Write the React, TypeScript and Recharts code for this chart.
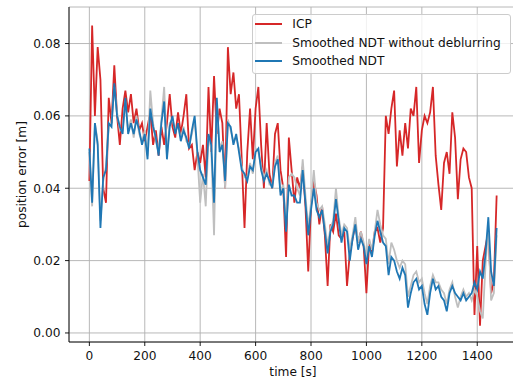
import React from "react";
import {
  LineChart,
  Line,
  XAxis,
  YAxis,
  CartesianGrid,
  Legend,
  Label,
} from "recharts";

// sampled every 10 s, t = 0 .. 1470
const TIME_STEP = 10;

const SERIES_NAMES = ["ICP", "Smoothed NDT without deblurring", "Smoothed NDT"];

const ICP = [
  0.042, 0.085, 0.060, 0.079, 0.070, 0.040, 0.036, 0.065, 0.058, 0.074,
  0.060, 0.052, 0.062, 0.067, 0.061, 0.066, 0.058, 0.062, 0.056, 0.058,
  0.053, 0.057, 0.061, 0.052, 0.056, 0.049, 0.057, 0.052, 0.058, 0.066,
  0.057, 0.054, 0.061, 0.055, 0.060, 0.066, 0.051, 0.052, 0.045, 0.050,
  0.047, 0.052, 0.043, 0.068, 0.050, 0.071, 0.055, 0.062, 0.058, 0.040,
  0.079, 0.066, 0.072, 0.062, 0.066, 0.048, 0.029, 0.050, 0.062, 0.048,
  0.062, 0.068, 0.052, 0.040, 0.058, 0.044, 0.040, 0.055, 0.058, 0.045,
  0.040, 0.021, 0.054, 0.045, 0.036, 0.043, 0.040, 0.046, 0.035, 0.017,
  0.035, 0.042, 0.038, 0.030, 0.035, 0.027, 0.013, 0.030, 0.028, 0.033,
  0.027, 0.026, 0.028, 0.013, 0.022, 0.026, 0.030, 0.025, 0.028, 0.024,
  0.011, 0.025, 0.022, 0.028, 0.029, 0.025, 0.029, 0.060, 0.055, 0.062,
  0.067, 0.046, 0.056, 0.049, 0.058, 0.051, 0.062, 0.060, 0.068, 0.047,
  0.056, 0.060, 0.058, 0.061, 0.068, 0.049, 0.041, 0.034, 0.047, 0.050,
  0.044, 0.061, 0.054, 0.037, 0.048, 0.051, 0.050, 0.043, 0.040, 0.005,
  0.024, 0.002, 0.020, 0.024, 0.028, 0.011, 0.014, 0.038,
];

const NDT_NO_DEBLUR = [
  0.050, 0.035, 0.058, 0.053, 0.031, 0.042, 0.046, 0.057, 0.058, 0.068,
  0.061, 0.056, 0.056, 0.064, 0.056, 0.059, 0.054, 0.060, 0.055, 0.053,
  0.056, 0.049, 0.067, 0.058, 0.053, 0.050, 0.059, 0.068, 0.049, 0.058,
  0.059, 0.056, 0.057, 0.054, 0.057, 0.053, 0.052, 0.055, 0.059, 0.049,
  0.036, 0.044, 0.035, 0.054, 0.051, 0.027, 0.063, 0.051, 0.053, 0.040,
  0.059, 0.056, 0.053, 0.054, 0.051, 0.046, 0.043, 0.043, 0.047, 0.044,
  0.051, 0.050, 0.046, 0.043, 0.045, 0.041, 0.041, 0.047, 0.049, 0.039,
  0.041, 0.030, 0.043, 0.044, 0.043, 0.040, 0.038, 0.048, 0.038, 0.029,
  0.036, 0.045, 0.036, 0.034, 0.035, 0.030, 0.024, 0.029, 0.031, 0.040,
  0.032, 0.027, 0.030, 0.029, 0.023, 0.027, 0.032, 0.025, 0.028, 0.025,
  0.021, 0.026, 0.023, 0.028, 0.034, 0.030, 0.027, 0.026, 0.019, 0.025,
  0.023, 0.020, 0.018, 0.020, 0.019, 0.010, 0.013, 0.016, 0.017, 0.014,
  0.015, 0.011, 0.008, 0.013, 0.016, 0.014, 0.014, 0.012, 0.011, 0.008,
  0.012, 0.014, 0.010, 0.007, 0.010, 0.012, 0.010, 0.011, 0.009, 0.012,
  0.010, 0.006, 0.004, 0.019, 0.029, 0.009, 0.011, 0.027,
];

const NDT = [
  0.051, 0.036, 0.058, 0.052, 0.029, 0.043, 0.045, 0.058, 0.057, 0.069,
  0.060, 0.057, 0.055, 0.065, 0.055, 0.058, 0.055, 0.059, 0.056, 0.052,
  0.055, 0.048, 0.062, 0.057, 0.054, 0.049, 0.058, 0.064, 0.048, 0.057,
  0.060, 0.055, 0.058, 0.053, 0.056, 0.054, 0.051, 0.056, 0.060, 0.050,
  0.045, 0.043, 0.041, 0.055, 0.052, 0.036, 0.065, 0.050, 0.052, 0.042,
  0.058, 0.057, 0.052, 0.055, 0.050, 0.045, 0.044, 0.042, 0.046, 0.045,
  0.050, 0.051, 0.045, 0.042, 0.044, 0.042, 0.040, 0.046, 0.048, 0.038,
  0.040, 0.028, 0.041, 0.038, 0.038, 0.036, 0.036, 0.045, 0.036, 0.027,
  0.034, 0.040, 0.034, 0.032, 0.034, 0.028, 0.022, 0.028, 0.030, 0.037,
  0.031, 0.025, 0.029, 0.028, 0.020, 0.026, 0.030, 0.023, 0.026, 0.024,
  0.019, 0.024, 0.021, 0.027, 0.031, 0.028, 0.025, 0.024, 0.016, 0.021,
  0.020, 0.017, 0.015, 0.018, 0.016, 0.007, 0.011, 0.014, 0.015, 0.012,
  0.013, 0.008, 0.005, 0.011, 0.015, 0.012, 0.013, 0.010, 0.009, 0.006,
  0.011, 0.013, 0.011, 0.010, 0.009, 0.011, 0.009, 0.010, 0.011, 0.014,
  0.012, 0.017, 0.015, 0.022, 0.032, 0.017, 0.013, 0.029,
];

const X_TICKS = [0, 200, 400, 600, 800, 1000, 1200, 1400];
const Y_TICKS = [0, 0.02, 0.04, 0.06, 0.08];

const data = ICP.map((v, i) => ({
  t: i * TIME_STEP,
  icp: v,
  raw: NDT_NO_DEBLUR[i],
  ndt: NDT[i],
}));

const FONT = "'DejaVu Sans', sans-serif";
const FS = 12.2;
const tickStyle = { fontSize: FS, fill: "#111", fontFamily: FONT };

function LegendBox(props: any) {
  const items = [...(props.payload || [])].sort(
    (a: any, b: any) =>
      SERIES_NAMES.indexOf(a.value) - SERIES_NAMES.indexOf(b.value)
  );
  return (
    <div
      style={{
        boxSizing: "border-box",
        width: 259.5,
        border: "1px solid #cccccc",
        borderRadius: 3,
        background: "rgba(255,255,255,0.8)",
        padding: "0 0 2px 2.3px",
        fontFamily: FONT,
        fontSize: FS,
        color: "#111",
        whiteSpace: "nowrap",
      }}
    >
      {items.map((e: any) => (
        <div
          key={e.value}
          style={{ display: "flex", alignItems: "center", height: 18.5 }}
        >
          <span
            style={{
              display: "inline-block",
              width: 27.3,
              height: 2,
              background: e.color,
              marginRight: 10,
            }}
          />
          <span>{e.value}</span>
        </div>
      ))}
    </div>
  );
}

export default function App() {
  return (
    <div
      style={{
        position: "fixed",
        left: 0,
        top: 0,
        width: 513,
        height: 383,
        overflow: "hidden",
        background: "#fff",
      }}
    >
      <LineChart
        width={530}
        height={383}
        data={data}
        margin={{ top: 7, right: 13, bottom: 0, left: 0 }}
      >
        <CartesianGrid stroke="#b0b0b0" strokeWidth={0.9} />
        <XAxis
          dataKey="t"
          type="number"
          domain={[-73.5, 1543.5]}
          ticks={X_TICKS}
          height={41}
          tick={tickStyle}
          tickSize={4}
          tickMargin={5.5}
          stroke="#000"
          strokeWidth={0.9}
          allowDataOverflow
        >
          <Label
            value="time [s]"
            position="insideBottom"
            offset={7}
            style={{ fontSize: FS, fill: "#111", fontFamily: FONT }}
          />
        </XAxis>
        <XAxis
          xAxisId="top"
          orientation="top"
          type="number"
          domain={[-73.5, 1543.5]}
          height={0}
          tick={false}
          tickLine={false}
          stroke="#000"
          strokeWidth={0.9}
        />
        <YAxis
          type="number"
          domain={[-0.0025, 0.0901]}
          ticks={Y_TICKS}
          width={69}
          tick={tickStyle}
          tickSize={4}
          tickMargin={4.5}
          tickFormatter={(v) => v.toFixed(2)}
          stroke="#000"
          strokeWidth={0.9}
          allowDataOverflow
        >
          <Label
            value="position error [m]"
            angle={-90}
            position="insideLeft"
            offset={22}
            style={{
              fontSize: FS,
              fill: "#111",
              fontFamily: FONT,
              textAnchor: "middle",
            }}
          />
        </YAxis>
        <Legend
          layout="vertical"
          align="center"
          verticalAlign="middle"
          content={LegendBox}
          wrapperStyle={{ left: 251.7, top: 14, width: 262 }}
        />
        <Line
          dataKey="icp"
          name="ICP"
          stroke="#d62728"
          strokeWidth={1.8}
          dot={false}
          type="linear"
          isAnimationActive={false}
        />
        <Line
          dataKey="raw"
          name="Smoothed NDT without deblurring"
          stroke="#bfbfbf"
          strokeWidth={1.8}
          dot={false}
          type="linear"
          isAnimationActive={false}
        />
        <Line
          dataKey="ndt"
          name="Smoothed NDT"
          stroke="#1f77b4"
          strokeWidth={1.8}
          dot={false}
          type="linear"
          isAnimationActive={false}
        />
      </LineChart>
    </div>
  );
}
